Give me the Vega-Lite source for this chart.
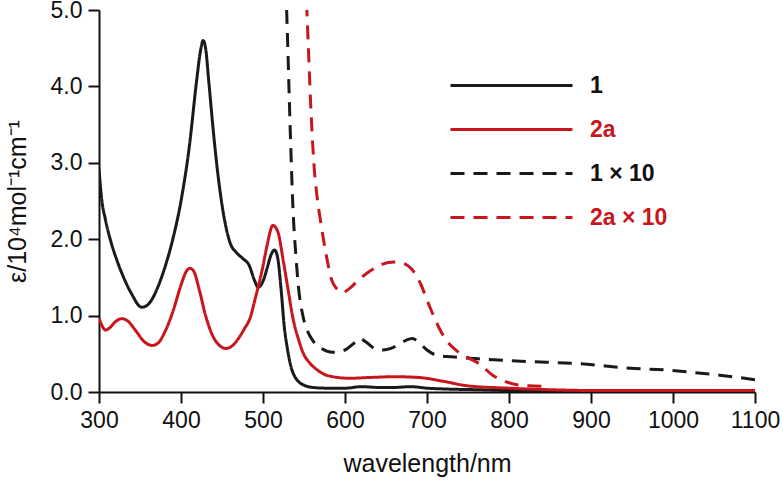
{
  "$schema": "https://vega.github.io/schema/vega-lite/v6.json",
  "width": 656,
  "height": 382,
  "autosize": {"type": "none"},
  "padding": {"left": 99, "top": 10, "right": 28, "bottom": 88},
  "background": "white",
  "config": {
    "view": {"stroke": null},
    "font": "Liberation Sans",
    "axis": {
      "grid": false,
      "domainColor": "#111111",
      "domainWidth": 2,
      "tickColor": "#111111",
      "tickWidth": 2,
      "tickSize": 11,
      "labelFont": "Liberation Sans",
      "labelFontSize": 23,
      "labelColor": "#111111",
      "labelPadding": 6,
      "titleFont": "Liberation Sans",
      "titleFontSize": 25,
      "titleFontWeight": "normal",
      "titleColor": "#111111"
    }
  },
  "data": {"values": [
    {"s":"1","x":300,"y":2.92},{"s":"1","x":303,"y":2.55},{"s":"1","x":308,"y":2.25},{"s":"1","x":315,"y":1.95},{"s":"1","x":322,"y":1.72},{"s":"1","x":330,"y":1.5},{"s":"1","x":340,"y":1.28},{"s":"1","x":352,"y":1.11},{"s":"1","x":358,"y":1.13},{"s":"1","x":365,"y":1.22},{"s":"1","x":372,"y":1.38},{"s":"1","x":380,"y":1.62},{"s":"1","x":390,"y":2.0},{"s":"1","x":400,"y":2.5},{"s":"1","x":410,"y":3.2},{"s":"1","x":419,"y":4.07},{"s":"1","x":424,"y":4.48},{"s":"1","x":427,"y":4.6},{"s":"1","x":430,"y":4.5},{"s":"1","x":434,"y":4.05},{"s":"1","x":440,"y":3.35},{"s":"1","x":445,"y":2.85},{"s":"1","x":450,"y":2.45},{"s":"1","x":455,"y":2.15},{"s":"1","x":460,"y":1.95},{"s":"1","x":468,"y":1.82},{"s":"1","x":475,"y":1.75},{"s":"1","x":483,"y":1.66},{"s":"1","x":490,"y":1.45},{"s":"1","x":494,"y":1.37},{"s":"1","x":500,"y":1.45},{"s":"1","x":505,"y":1.62},{"s":"1","x":510,"y":1.8},{"s":"1","x":514,"y":1.86},{"s":"1","x":518,"y":1.75},{"s":"1","x":522,"y":1.35},{"s":"1","x":526,"y":0.85},{"s":"1","x":530,"y":0.55},{"s":"1","x":535,"y":0.3},{"s":"1","x":540,"y":0.18},{"s":"1","x":545,"y":0.12},{"s":"1","x":550,"y":0.09},{"s":"1","x":560,"y":0.06},{"s":"1","x":580,"y":0.05},{"s":"1","x":600,"y":0.05},{"s":"1","x":620,"y":0.07},{"s":"1","x":640,"y":0.06},{"s":"1","x":660,"y":0.06},{"s":"1","x":680,"y":0.07},{"s":"1","x":700,"y":0.05},{"s":"1","x":720,"y":0.04},{"s":"1","x":760,"y":0.03},{"s":"1","x":800,"y":0.02},{"s":"1","x":900,"y":0.02},{"s":"1","x":1000,"y":0.02},{"s":"1","x":1100,"y":0.02},
    {"s":"2a","x":300,"y":0.97},{"s":"2a","x":304,"y":0.86},{"s":"2a","x":308,"y":0.81},{"s":"2a","x":313,"y":0.84},{"s":"2a","x":320,"y":0.92},{"s":"2a","x":328,"y":0.96},{"s":"2a","x":335,"y":0.93},{"s":"2a","x":345,"y":0.8},{"s":"2a","x":355,"y":0.66},{"s":"2a","x":365,"y":0.61},{"s":"2a","x":372,"y":0.64},{"s":"2a","x":380,"y":0.78},{"s":"2a","x":390,"y":1.05},{"s":"2a","x":400,"y":1.4},{"s":"2a","x":406,"y":1.57},{"s":"2a","x":411,"y":1.62},{"s":"2a","x":416,"y":1.57},{"s":"2a","x":422,"y":1.35},{"s":"2a","x":430,"y":1.0},{"s":"2a","x":438,"y":0.75},{"s":"2a","x":445,"y":0.63},{"s":"2a","x":455,"y":0.57},{"s":"2a","x":462,"y":0.6},{"s":"2a","x":470,"y":0.7},{"s":"2a","x":478,"y":0.84},{"s":"2a","x":484,"y":0.96},{"s":"2a","x":490,"y":1.2},{"s":"2a","x":500,"y":1.65},{"s":"2a","x":505,"y":1.92},{"s":"2a","x":512,"y":2.18},{"s":"2a","x":518,"y":2.1},{"s":"2a","x":525,"y":1.7},{"s":"2a","x":530,"y":1.38},{"s":"2a","x":537,"y":0.94},{"s":"2a","x":543,"y":0.7},{"s":"2a","x":549,"y":0.51},{"s":"2a","x":557,"y":0.38},{"s":"2a","x":566,"y":0.29},{"s":"2a","x":575,"y":0.23},{"s":"2a","x":585,"y":0.2},{"s":"2a","x":606,"y":0.18},{"s":"2a","x":630,"y":0.19},{"s":"2a","x":660,"y":0.2},{"s":"2a","x":690,"y":0.19},{"s":"2a","x":720,"y":0.14},{"s":"2a","x":750,"y":0.08},{"s":"2a","x":800,"y":0.05},{"s":"2a","x":850,"y":0.03},{"s":"2a","x":900,"y":0.02},{"s":"2a","x":1000,"y":0.02},{"s":"2a","x":1100,"y":0.02},
    {"s":"1 × 10","x":527,"y":5.6},{"s":"1 × 10","x":530,"y":4.6},{"s":"1 × 10","x":533,"y":3.5},{"s":"1 × 10","x":537,"y":2.3},{"s":"1 × 10","x":540,"y":1.8},{"s":"1 × 10","x":543,"y":1.4},{"s":"1 × 10","x":549,"y":0.98},{"s":"1 × 10","x":555,"y":0.78},{"s":"1 × 10","x":561,"y":0.67},{"s":"1 × 10","x":570,"y":0.58},{"s":"1 × 10","x":585,"y":0.52},{"s":"1 × 10","x":600,"y":0.55},{"s":"1 × 10","x":610,"y":0.63},{"s":"1 × 10","x":618,"y":0.7},{"s":"1 × 10","x":626,"y":0.65},{"s":"1 × 10","x":636,"y":0.57},{"s":"1 × 10","x":646,"y":0.55},{"s":"1 × 10","x":656,"y":0.57},{"s":"1 × 10","x":665,"y":0.62},{"s":"1 × 10","x":675,"y":0.68},{"s":"1 × 10","x":682,"y":0.7},{"s":"1 × 10","x":690,"y":0.65},{"s":"1 × 10","x":700,"y":0.55},{"s":"1 × 10","x":712,"y":0.48},{"s":"1 × 10","x":730,"y":0.46},{"s":"1 × 10","x":768,"y":0.43},{"s":"1 × 10","x":800,"y":0.41},{"s":"1 × 10","x":846,"y":0.39},{"s":"1 × 10","x":887,"y":0.37},{"s":"1 × 10","x":948,"y":0.31},{"s":"1 × 10","x":988,"y":0.29},{"s":"1 × 10","x":1020,"y":0.26},{"s":"1 × 10","x":1057,"y":0.22},{"s":"1 × 10","x":1080,"y":0.19},{"s":"1 × 10","x":1100,"y":0.16},
    {"s":"2a × 10","x":552,"y":5.4},{"s":"2a × 10","x":555,"y":4.6},{"s":"2a × 10","x":558,"y":3.8},{"s":"2a × 10","x":562,"y":3.0},{"s":"2a × 10","x":566,"y":2.55},{"s":"2a × 10","x":570,"y":2.25},{"s":"2a × 10","x":577,"y":1.8},{"s":"2a × 10","x":584,"y":1.46},{"s":"2a × 10","x":590,"y":1.35},{"s":"2a × 10","x":597,"y":1.3},{"s":"2a × 10","x":605,"y":1.35},{"s":"2a × 10","x":615,"y":1.45},{"s":"2a × 10","x":630,"y":1.58},{"s":"2a × 10","x":645,"y":1.67},{"s":"2a × 10","x":660,"y":1.7},{"s":"2a × 10","x":672,"y":1.68},{"s":"2a × 10","x":682,"y":1.6},{"s":"2a × 10","x":692,"y":1.42},{"s":"2a × 10","x":702,"y":1.15},{"s":"2a × 10","x":712,"y":0.9},{"s":"2a × 10","x":722,"y":0.7},{"s":"2a × 10","x":735,"y":0.55},{"s":"2a × 10","x":750,"y":0.45},{"s":"2a × 10","x":765,"y":0.36},{"s":"2a × 10","x":780,"y":0.22},{"s":"2a × 10","x":795,"y":0.14},{"s":"2a × 10","x":813,"y":0.09},{"s":"2a × 10","x":830,"y":0.08},{"s":"2a × 10","x":850,"y":0.07}
  ]},
  "mark": {"type": "line", "clip": true, "interpolate": "monotone", "strokeWidth": 3},
  "encoding": {
    "x": {
      "field": "x", "type": "quantitative",
      "scale": {"domain": [300, 1100], "nice": false},
      "axis": {"values": [300,400,500,600,700,800,900,1000,1100], "format": "d", "title": "wavelength/nm", "labelFlush": false, "titlePadding": 19}
    },
    "y": {
      "field": "y", "type": "quantitative",
      "scale": {"domain": [0, 5], "nice": false},
      "axis": {"values": [0,1,2,3,4,5], "format": ".1f", "title": "ε/10⁴mol⁻¹cm⁻¹", "labelFlush": false, "titlePadding": 20}
    },
    "color": {
      "field": "s", "type": "nominal",
      "scale": {"domain": ["1", "2a", "1 × 10", "2a × 10"], "range": ["#1a1a1a", "#c8161d", "#1a1a1a", "#c8161d"]},
      "legend": {"title": null, "orient": "none", "legendX": 401, "legendY": 64, "symbolType": "M-30.5,0H30.5", "symbolSize": 16, "symbolStrokeWidth": 3, "labelFontSize": 23, "labelFontWeight": "bold", "labelFont": "Liberation Sans", "labelOffset": 67, "rowPadding": 20, "labelColor": {"expr": "indexof(['2a', '2a × 10'], datum.label) >= 0 ? '#c8161d' : '#111111'"}}
    },
    "strokeDash": {
      "field": "s", "type": "nominal",
      "scale": {"domain": ["1", "2a", "1 × 10", "2a × 10"], "range": [[1, 0], [1, 0], [14, 9], [14, 9]]},
      "legend": {"title": null, "orient": "none", "legendX": 401, "legendY": 64, "symbolType": "M-30.5,0H30.5", "symbolSize": 16, "symbolStrokeWidth": 3, "labelFontSize": 23, "labelFontWeight": "bold", "labelFont": "Liberation Sans", "labelOffset": 67, "rowPadding": 20, "labelColor": {"expr": "indexof(['2a', '2a × 10'], datum.label) >= 0 ? '#c8161d' : '#111111'"}}
    }
  }
}
